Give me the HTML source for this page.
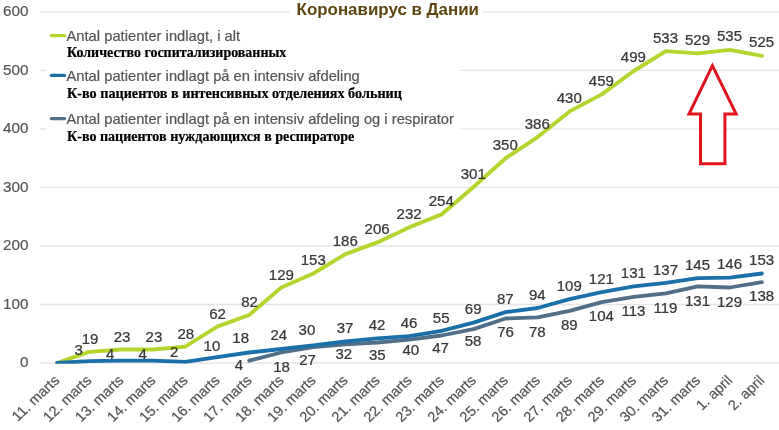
<!DOCTYPE html>
<html lang="ru"><head><meta charset="utf-8"><title>Коронавирус в Дании</title>
<style>
html,body{margin:0;padding:0;background:#fff;}
body{width:779px;height:430px;overflow:hidden;}
svg{display:block;font-family:"Liberation Sans",Arial,sans-serif;}
.ax{font-size:14.6px;fill:#555;stroke:#555;stroke-width:0.2px;}
.xl{font-size:14.1px;fill:#555;stroke:#555;stroke-width:0.2px;}
.dl{font-size:14.4px;fill:#383838;stroke:#383838;stroke-width:0.25px;}
.lg{font-size:14.11px;fill:#555;stroke:#555;stroke-width:0.2px;}
.ru{font-family:"Liberation Serif","Times New Roman",serif;font-weight:bold;font-size:13.6px;fill:#000;stroke:#000;stroke-width:0.2px;}
.tt{font-weight:bold;font-size:16.2px;fill:#5c4510;}
</style></head><body>
<svg width="779" height="430" viewBox="0 0 779 430">
<rect width="779" height="430" fill="#fff"/>
<line x1="40" x2="779" y1="363.0" y2="363.0" stroke="#e4e4e4" stroke-width="1.3"/>
<text transform="translate(28.4,367.3) scale(1.045,1)" text-anchor="end" class="ax">0</text>
<line x1="40" x2="779" y1="304.5" y2="304.5" stroke="#e4e4e4" stroke-width="1.3"/>
<text transform="translate(28.4,308.8) scale(1.045,1)" text-anchor="end" class="ax">100</text>
<line x1="40" x2="779" y1="246.0" y2="246.0" stroke="#e4e4e4" stroke-width="1.3"/>
<text transform="translate(28.4,250.3) scale(1.045,1)" text-anchor="end" class="ax">200</text>
<line x1="40" x2="779" y1="187.4" y2="187.4" stroke="#e4e4e4" stroke-width="1.3"/>
<text transform="translate(28.4,191.7) scale(1.045,1)" text-anchor="end" class="ax">300</text>
<line x1="40" x2="779" y1="128.9" y2="128.9" stroke="#e4e4e4" stroke-width="1.3"/>
<text transform="translate(28.4,133.2) scale(1.045,1)" text-anchor="end" class="ax">400</text>
<line x1="40" x2="779" y1="70.4" y2="70.4" stroke="#e4e4e4" stroke-width="1.3"/>
<text transform="translate(28.4,74.7) scale(1.045,1)" text-anchor="end" class="ax">500</text>
<line x1="40" x2="779" y1="11.9" y2="11.9" stroke="#e4e4e4" stroke-width="1.3"/>
<text transform="translate(28.4,16.2) scale(1.045,1)" text-anchor="end" class="ax">600</text>
<rect x="46" y="22" width="414.5" height="128" fill="#fff"/>
<clipPath id="plot"><rect x="55.2" y="0" width="724" height="363.7"/></clipPath>
<g clip-path="url(#plot)">
<path d="M57.0,363.0 L89.0,351.9 L121.1,349.5 L153.1,349.5 L185.2,346.6 L217.2,326.7 L249.2,315.0 L281.3,287.5 L313.3,273.5 L345.4,254.2 L377.4,242.4 L409.4,227.2 L441.5,214.4 L473.5,186.9 L505.6,158.2 L537.6,137.1 L569.6,111.4 L601.7,94.4 L633.7,71.0 L665.8,51.1 L697.8,53.4 L729.8,49.9 L761.9,55.8" fill="none" stroke="#b3d52e" stroke-width="3.9" stroke-linejoin="round" stroke-linecap="round"/>
<path d="M249.2,360.7 L281.3,352.5 L313.3,347.2 L345.4,344.3 L377.4,342.5 L409.4,339.6 L441.5,335.5 L473.5,329.1 L505.6,318.5 L537.6,317.4 L569.6,310.9 L601.7,302.1 L633.7,296.9 L665.8,293.4 L697.8,286.3 L729.8,287.5 L761.9,282.2" fill="none" stroke="#526f8a" stroke-width="3.8" stroke-linejoin="round" stroke-linecap="round"/>
<path d="M57.0,363.0 L89.0,361.2 L121.1,360.7 L153.1,360.7 L185.2,361.8 L217.2,357.1 L249.2,352.5 L281.3,349.0 L313.3,345.4 L345.4,341.3 L377.4,338.4 L409.4,336.1 L441.5,330.8 L473.5,322.6 L505.6,312.1 L537.6,308.0 L569.6,299.2 L601.7,292.2 L633.7,286.3 L665.8,282.8 L697.8,278.1 L729.8,277.6 L761.9,273.5" fill="none" stroke="#1b70a9" stroke-width="3.8" stroke-linejoin="round" stroke-linecap="round"/>
</g>
<text transform="translate(60.4,381.2) scale(1.045,1) rotate(-45)" text-anchor="end" class="xl">11. marts</text>
<text transform="translate(92.4,381.2) scale(1.045,1) rotate(-45)" text-anchor="end" class="xl">12. marts</text>
<text transform="translate(124.5,381.2) scale(1.045,1) rotate(-45)" text-anchor="end" class="xl">13. marts</text>
<text transform="translate(156.5,381.2) scale(1.045,1) rotate(-45)" text-anchor="end" class="xl">14. marts</text>
<text transform="translate(188.6,381.2) scale(1.045,1) rotate(-45)" text-anchor="end" class="xl">15. marts</text>
<text transform="translate(220.6,381.2) scale(1.045,1) rotate(-45)" text-anchor="end" class="xl">16. marts</text>
<text transform="translate(252.6,381.2) scale(1.045,1) rotate(-45)" text-anchor="end" class="xl">17. marts</text>
<text transform="translate(284.7,381.2) scale(1.045,1) rotate(-45)" text-anchor="end" class="xl">18. marts</text>
<text transform="translate(316.7,381.2) scale(1.045,1) rotate(-45)" text-anchor="end" class="xl">19. marts</text>
<text transform="translate(348.8,381.2) scale(1.045,1) rotate(-45)" text-anchor="end" class="xl">20. marts</text>
<text transform="translate(380.8,381.2) scale(1.045,1) rotate(-45)" text-anchor="end" class="xl">21. marts</text>
<text transform="translate(412.8,381.2) scale(1.045,1) rotate(-45)" text-anchor="end" class="xl">22. marts</text>
<text transform="translate(444.9,381.2) scale(1.045,1) rotate(-45)" text-anchor="end" class="xl">23. marts</text>
<text transform="translate(476.9,381.2) scale(1.045,1) rotate(-45)" text-anchor="end" class="xl">24. marts</text>
<text transform="translate(509.0,381.2) scale(1.045,1) rotate(-45)" text-anchor="end" class="xl">25. marts</text>
<text transform="translate(541.0,381.2) scale(1.045,1) rotate(-45)" text-anchor="end" class="xl">26. marts</text>
<text transform="translate(573.0,381.2) scale(1.045,1) rotate(-45)" text-anchor="end" class="xl">27. marts</text>
<text transform="translate(605.1,381.2) scale(1.045,1) rotate(-45)" text-anchor="end" class="xl">28. marts</text>
<text transform="translate(637.1,381.2) scale(1.045,1) rotate(-45)" text-anchor="end" class="xl">29. marts</text>
<text transform="translate(669.2,381.2) scale(1.045,1) rotate(-45)" text-anchor="end" class="xl">30. marts</text>
<text transform="translate(701.2,381.2) scale(1.045,1) rotate(-45)" text-anchor="end" class="xl">31. marts</text>
<text transform="translate(733.2,381.2) scale(1.045,1) rotate(-45)" text-anchor="end" class="xl">1. april</text>
<text transform="translate(765.3,381.2) scale(1.045,1) rotate(-45)" text-anchor="end" class="xl">2. april</text>
<text transform="translate(90.1,344.1) scale(1.045,1)" text-anchor="middle" class="dl">19</text>
<text transform="translate(122.0,341.7) scale(1.045,1)" text-anchor="middle" class="dl">23</text>
<text transform="translate(153.9,341.7) scale(1.045,1)" text-anchor="middle" class="dl">23</text>
<text transform="translate(185.8,338.8) scale(1.045,1)" text-anchor="middle" class="dl">28</text>
<text transform="translate(217.6,318.8) scale(1.045,1)" text-anchor="middle" class="dl">62</text>
<text transform="translate(249.5,307.1) scale(1.045,1)" text-anchor="middle" class="dl">82</text>
<text transform="translate(281.4,279.5) scale(1.045,1)" text-anchor="middle" class="dl">129</text>
<text transform="translate(313.3,265.4) scale(1.045,1)" text-anchor="middle" class="dl">153</text>
<text transform="translate(345.2,246.1) scale(1.045,1)" text-anchor="middle" class="dl">186</text>
<text transform="translate(377.1,234.3) scale(1.045,1)" text-anchor="middle" class="dl">206</text>
<text transform="translate(409.1,219.1) scale(1.045,1)" text-anchor="middle" class="dl">232</text>
<text transform="translate(441.2,206.2) scale(1.045,1)" text-anchor="middle" class="dl">254</text>
<text transform="translate(473.2,178.6) scale(1.045,1)" text-anchor="middle" class="dl">301</text>
<text transform="translate(505.3,149.9) scale(1.045,1)" text-anchor="middle" class="dl">350</text>
<text transform="translate(537.3,128.7) scale(1.045,1)" text-anchor="middle" class="dl">386</text>
<text transform="translate(569.3,102.9) scale(1.045,1)" text-anchor="middle" class="dl">430</text>
<text transform="translate(601.4,85.9) scale(1.045,1)" text-anchor="middle" class="dl">459</text>
<text transform="translate(633.4,62.4) scale(1.045,1)" text-anchor="middle" class="dl">499</text>
<text transform="translate(665.5,42.5) scale(1.045,1)" text-anchor="middle" class="dl">533</text>
<text transform="translate(697.5,44.8) scale(1.045,1)" text-anchor="middle" class="dl">529</text>
<text transform="translate(729.5,41.3) scale(1.045,1)" text-anchor="middle" class="dl">535</text>
<text transform="translate(761.6,47.2) scale(1.045,1)" text-anchor="middle" class="dl">525</text>
<text transform="translate(78.6,355.1) scale(1.045,1)" text-anchor="middle" class="dl">3</text>
<text transform="translate(110.2,359.2) scale(1.045,1)" text-anchor="middle" class="dl">4</text>
<text transform="translate(142.6,359.2) scale(1.045,1)" text-anchor="middle" class="dl">4</text>
<text transform="translate(174.3,356.5) scale(1.045,1)" text-anchor="middle" class="dl">2</text>
<text transform="translate(211.9,350.8) scale(1.045,1)" text-anchor="middle" class="dl">10</text>
<text transform="translate(240.7,343.4) scale(1.045,1)" text-anchor="middle" class="dl">18</text>
<text transform="translate(278.8,339.7) scale(1.045,1)" text-anchor="middle" class="dl">24</text>
<text transform="translate(306.9,335.0) scale(1.045,1)" text-anchor="middle" class="dl">30</text>
<text transform="translate(345.1,333.0) scale(1.045,1)" text-anchor="middle" class="dl">37</text>
<text transform="translate(377.1,330.1) scale(1.045,1)" text-anchor="middle" class="dl">42</text>
<text transform="translate(409.1,327.8) scale(1.045,1)" text-anchor="middle" class="dl">46</text>
<text transform="translate(441.2,322.5) scale(1.045,1)" text-anchor="middle" class="dl">55</text>
<text transform="translate(473.2,314.3) scale(1.045,1)" text-anchor="middle" class="dl">69</text>
<text transform="translate(505.3,303.8) scale(1.045,1)" text-anchor="middle" class="dl">87</text>
<text transform="translate(537.3,299.7) scale(1.045,1)" text-anchor="middle" class="dl">94</text>
<text transform="translate(569.3,290.9) scale(1.045,1)" text-anchor="middle" class="dl">109</text>
<text transform="translate(601.4,283.9) scale(1.045,1)" text-anchor="middle" class="dl">121</text>
<text transform="translate(633.4,278.0) scale(1.045,1)" text-anchor="middle" class="dl">131</text>
<text transform="translate(665.5,274.5) scale(1.045,1)" text-anchor="middle" class="dl">137</text>
<text transform="translate(697.5,269.8) scale(1.045,1)" text-anchor="middle" class="dl">145</text>
<text transform="translate(729.5,269.3) scale(1.045,1)" text-anchor="middle" class="dl">146</text>
<text transform="translate(761.6,265.2) scale(1.045,1)" text-anchor="middle" class="dl">153</text>
<text transform="translate(239.0,369.9) scale(1.045,1)" text-anchor="middle" class="dl">4</text>
<text transform="translate(281.5,371.5) scale(1.045,1)" text-anchor="middle" class="dl">18</text>
<text transform="translate(307.6,365.2) scale(1.045,1)" text-anchor="middle" class="dl">27</text>
<text transform="translate(343.8,359.2) scale(1.045,1)" text-anchor="middle" class="dl">32</text>
<text transform="translate(377.3,359.8) scale(1.045,1)" text-anchor="middle" class="dl">35</text>
<text transform="translate(410.8,354.8) scale(1.045,1)" text-anchor="middle" class="dl">40</text>
<text transform="translate(440.6,352.5) scale(1.045,1)" text-anchor="middle" class="dl">47</text>
<text transform="translate(473.1,345.8) scale(1.045,1)" text-anchor="middle" class="dl">58</text>
<text transform="translate(505.6,337.4) scale(1.045,1)" text-anchor="middle" class="dl">76</text>
<text transform="translate(537.3,336.6) scale(1.045,1)" text-anchor="middle" class="dl">78</text>
<text transform="translate(569.3,330.1) scale(1.045,1)" text-anchor="middle" class="dl">89</text>
<text transform="translate(601.4,321.3) scale(1.045,1)" text-anchor="middle" class="dl">104</text>
<text transform="translate(633.4,316.1) scale(1.045,1)" text-anchor="middle" class="dl">113</text>
<text transform="translate(665.5,312.6) scale(1.045,1)" text-anchor="middle" class="dl">119</text>
<text transform="translate(697.5,305.5) scale(1.045,1)" text-anchor="middle" class="dl">131</text>
<text transform="translate(729.5,306.7) scale(1.045,1)" text-anchor="middle" class="dl">129</text>
<text transform="translate(761.6,301.4) scale(1.045,1)" text-anchor="middle" class="dl">138</text>
<line x1="51.5" x2="64.5" y1="35.6" y2="35.6" stroke="#b3d52e" stroke-width="3.4" stroke-linecap="round"/>
<text transform="translate(66.5,40.8) scale(1.045,1)" class="lg">Antal patienter indlagt, i alt</text>
<text transform="translate(67.0,57.2) scale(1.029,1)" class="ru">Количество госпитализированных</text>
<line x1="51.5" x2="64.5" y1="75.4" y2="75.4" stroke="#1b70a9" stroke-width="3.4" stroke-linecap="round"/>
<text transform="translate(66.5,80.6) scale(1.045,1)" class="lg">Antal patienter indlagt på en intensiv afdeling</text>
<text transform="translate(67.0,97.6) scale(1.044,1)" class="ru">К-во пациентов в интенсивных отделениях больниц</text>
<line x1="51.5" x2="64.5" y1="118.6" y2="118.6" stroke="#526f8a" stroke-width="3.4" stroke-linecap="round"/>
<text transform="translate(66.5,123.8) scale(1.045,1)" class="lg">Antal patienter indlagt på en intensiv afdeling og i respirator</text>
<text transform="translate(67.0,140.6) scale(1.035,1)" class="ru">К-во пациентов нуждающихся в респираторе</text>
<rect x="290" y="0" width="193" height="22" fill="#fff"/>
<text transform="translate(387.8,15.1) scale(1.045,1)" text-anchor="middle" class="tt">Коронавирус в Дании</text>
<path d="M712.4,65.6 L736.2,114 L724.9,114 L724.9,163.8 L700.5,163.8 L700.5,114 L689,114 Z" fill="#fff" stroke="#e0141c" stroke-width="3" stroke-linejoin="miter"/>
</svg>
</body></html>
